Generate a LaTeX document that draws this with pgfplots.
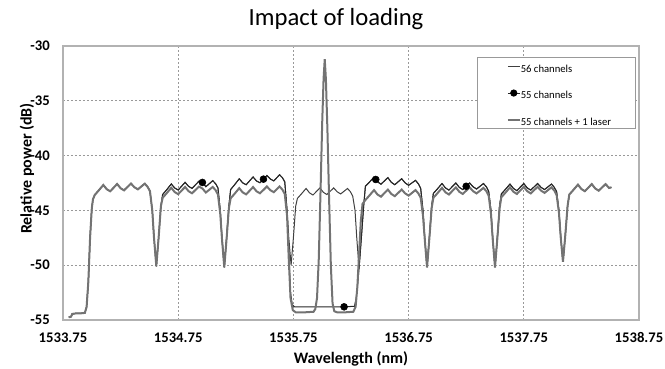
\documentclass[border=0pt]{standalone}
\usepackage{pgfplots}
\pgfplotsset{compat=1.18}
\usepackage{fontspec}
\setmainfont{Carlito}
\begin{document}
\begin{tikzpicture}
\begin{axis}[
  scale only axis, width=432pt, height=205.5pt,
  xmin=1533.75, xmax=1538.75, ymin=-55, ymax=-30,
  xtick={1533.75,1534.75,1535.75,1536.75,1537.75,1538.75},
  xticklabels={1533.75,1534.75,1535.75,1536.75,1537.75,1538.75},
  ytick={-55,-50,-45,-40,-35,-30},
  yticklabels={-55,-50,-45,-40,-35,-30},
  grid=major,
  major grid style={color=black!40, line width=0.5pt, dash pattern=on 1.5pt off 1.5pt},
  axis line style={color=black!30, line width=0.8pt},
  major tick length=0pt,
  tick label style={font=\bfseries\fontsize{11}{13}\selectfont},
  xticklabel style={anchor=base, yshift=-17.25pt},
  yticklabel style={anchor=east, inner xsep=0pt, xshift=-9.75pt},
  every axis title shift=0pt,
  title={Impact of loading},
  title style={at={(0.474,1.0766)}, anchor=base, font=\fontsize{18.5}{22}\selectfont},
  xlabel={Wavelength (nm)},
  xlabel style={at={(0.5,-0.1606)}, anchor=base, font=\bfseries\fontsize{12}{14}\selectfont},
  ylabel={Relative power (dB)},
  ylabel style={at={(-0.0546,0.553)}, anchor=base, font=\bfseries\fontsize{12}{14}\selectfont},
  legend cell align=left,
  legend style={at={(0.7188,0.9599)}, anchor=north west, draw=black!40, line width=0.6pt,
    fill=white, inner xsep=22pt, inner ysep=1pt, row sep=8.5pt,
    font=\fontsize{8}{9.5}\selectfont, nodes={inner sep=0pt},
    /tikz/every even column/.append style={column sep=1.5pt}},
]
% 56 channels
\addplot[color=black!75, line width=0.75pt,
  legend image code/.code={\draw (0pt,0pt) -- (9pt,0pt);}]
table {
1533.80 -54.75
1533.82 -54.7
1533.83 -54.45
1533.86 -54.4
1533.90 -54.4
1533.94 -54.35
1533.955 -53.8
1533.97 -51.5
1533.985 -47.5
1534.00 -44.8
1534.01 -44.0
1534.025 -43.6
1534.055 -43.24
1534.10 -42.68
1534.13 -43.07
1534.16 -43.26
1534.22 -42.59
1534.25 -42.98
1534.28 -43.17
1534.34 -42.55
1534.37 -42.89
1534.40 -43.08
1534.46 -42.56
1534.485 -42.86
1534.505 -43.25
1534.525 -45.0
1534.54 -47.5
1534.56 -50.1
1534.58 -47.5
1534.60 -44.6
1534.615 -43.55
1534.645 -43.18
1534.69 -42.59
1534.72 -42.96
1534.75 -43.14
1534.81 -42.44
1534.84 -42.81
1534.87 -42.99
1534.93 -42.34
1534.96 -42.45
1534.99 -42.84
1535.05 -42.29
1535.075 -42.57
1535.095 -42.95
1535.115 -45.0
1535.13 -47.5
1535.15 -50.2
1535.17 -47.5
1535.19 -44.6
1535.205 -43.1
1535.235 -42.72
1535.28 -42.12
1535.31 -42.49
1535.34 -42.66
1535.40 -41.95
1535.43 -42.32
1535.46 -42.48
1535.49 -42.15
1535.52 -41.82
1535.55 -42.14
1535.58 -42.31
1535.63 -41.75
1535.655 -42.02
1535.675 -42.4
1535.695 -45.0
1535.71 -47.5
1535.73 -50.0
1535.75 -47.5
1535.77 -44.6
1535.785 -43.9
1535.815 -43.55
1535.86 -43.0
1535.89 -43.4
1535.92 -43.6
1535.98 -42.95
1536.01 -43.35
1536.04 -43.55
1536.10 -42.95
1536.13 -43.3
1536.16 -43.5
1536.22 -43.0
1536.245 -43.3
1536.265 -43.7
1536.285 -45.0
1536.30 -47.5
1536.32 -50.3
1536.34 -47.5
1536.36 -44.6
1536.375 -42.8
1536.405 -42.48
1536.45 -41.96
1536.465 -42.18
1536.48 -42.39
1536.51 -42.61
1536.57 -42.01
1536.60 -42.44
1536.63 -42.66
1536.69 -42.11
1536.72 -42.49
1536.75 -42.71
1536.81 -42.26
1536.835 -42.58
1536.855 -43.0
1536.875 -45.0
1536.89 -47.5
1536.91 -50.2
1536.93 -47.5
1536.95 -44.6
1536.965 -43.45
1536.995 -43.1
1537.04 -42.55
1537.07 -42.95
1537.10 -43.15
1537.16 -42.5
1537.19 -42.9
1537.22 -43.1
1537.25 -42.8
1537.28 -42.5
1537.31 -42.85
1537.34 -43.05
1537.40 -42.55
1537.425 -42.85
1537.445 -43.25
1537.465 -45.0
1537.48 -47.5
1537.50 -50.2
1537.52 -47.5
1537.54 -44.6
1537.555 -43.5
1537.585 -43.15
1537.63 -42.6
1537.66 -43.0
1537.69 -43.2
1537.75 -42.55
1537.78 -42.95
1537.81 -43.15
1537.87 -42.55
1537.90 -42.9
1537.93 -43.1
1537.99 -42.6
1538.015 -42.9
1538.035 -43.3
1538.055 -45.0
1538.07 -47.3
1538.09 -49.7
1538.11 -47.3
1538.13 -44.6
1538.145 -43.55
1538.175 -43.2
1538.22 -42.65
1538.25 -43.05
1538.28 -43.25
1538.34 -42.6
1538.37 -43.0
1538.40 -43.2
1538.46 -42.6
1538.49 -42.95
1538.51 -42.9
};
\addlegendentry{\makebox[64pt][l]{\rule[-2.5pt]{0pt}{12.5pt}56 channels}}
% 55 channels
\addplot[color=black!85, line width=0.75pt,
  legend image code/.code={\draw (0pt,0pt) -- (9pt,0pt); \fill[black] (4.5pt,0pt) circle (2.3pt);}]
table {
1533.80 -54.75
1533.82 -54.7
1533.83 -54.45
1533.86 -54.4
1533.90 -54.4
1533.94 -54.35
1533.955 -53.8
1533.97 -51.5
1533.985 -47.5
1534.00 -44.8
1534.01 -44.0
1534.025 -43.6
1534.055 -43.24
1534.10 -42.68
1534.13 -43.07
1534.16 -43.26
1534.22 -42.59
1534.25 -42.98
1534.28 -43.17
1534.34 -42.55
1534.37 -42.89
1534.40 -43.08
1534.46 -42.56
1534.485 -42.86
1534.505 -43.25
1534.525 -45.0
1534.54 -47.5
1534.56 -50.1
1534.58 -47.5
1534.60 -44.6
1534.615 -43.55
1534.645 -43.18
1534.69 -42.59
1534.72 -42.96
1534.75 -43.14
1534.81 -42.44
1534.84 -42.81
1534.87 -42.99
1534.93 -42.34
1534.96 -42.45
1534.99 -42.84
1535.05 -42.29
1535.075 -42.57
1535.095 -42.95
1535.115 -45.0
1535.13 -47.5
1535.15 -50.2
1535.17 -47.5
1535.19 -44.6
1535.205 -43.1
1535.235 -42.72
1535.28 -42.12
1535.31 -42.49
1535.34 -42.66
1535.40 -41.95
1535.43 -42.32
1535.46 -42.48
1535.49 -42.15
1535.52 -41.82
1535.55 -42.14
1535.58 -42.31
1535.63 -41.75
1535.655 -42.02
1535.675 -42.4
1535.695 -45.0
1535.71 -48.5
1535.725 -52.5
1535.74 -53.6
1535.76 -53.8
1535.90 -53.8
1536.05 -53.8
1536.19 -53.8
1536.28 -53.75
1536.295 -53.0
1536.31 -51.5
1536.32 -50.3
1536.34 -47.5
1536.36 -44.6
1536.375 -42.8
1536.405 -42.48
1536.45 -41.96
1536.465 -42.18
1536.48 -42.39
1536.51 -42.61
1536.57 -42.01
1536.60 -42.44
1536.63 -42.66
1536.69 -42.11
1536.72 -42.49
1536.75 -42.71
1536.81 -42.26
1536.835 -42.58
1536.855 -43.0
1536.875 -45.0
1536.89 -47.5
1536.91 -50.2
1536.93 -47.5
1536.95 -44.6
1536.965 -43.45
1536.995 -43.1
1537.04 -42.55
1537.07 -42.95
1537.10 -43.15
1537.16 -42.5
1537.19 -42.9
1537.22 -43.1
1537.25 -42.8
1537.28 -42.5
1537.31 -42.85
1537.34 -43.05
1537.40 -42.55
1537.425 -42.85
1537.445 -43.25
1537.465 -45.0
1537.48 -47.5
1537.50 -50.2
1537.52 -47.5
1537.54 -44.6
1537.555 -43.5
1537.585 -43.15
1537.63 -42.6
1537.66 -43.0
1537.69 -43.2
1537.75 -42.55
1537.78 -42.95
1537.81 -43.15
1537.87 -42.55
1537.90 -42.9
1537.93 -43.1
1537.99 -42.6
1538.015 -42.9
1538.035 -43.3
1538.055 -45.0
1538.07 -47.3
1538.09 -49.7
1538.11 -47.3
1538.13 -44.6
1538.145 -43.55
1538.175 -43.2
1538.22 -42.65
1538.25 -43.05
1538.28 -43.25
1538.34 -42.6
1538.37 -43.0
1538.40 -43.2
1538.46 -42.6
1538.49 -42.95
1538.51 -42.9
};
\addlegendentry{\makebox[64pt][l]{\rule[-2.5pt]{0pt}{12.5pt}55 channels}}
% 55 channels + 1 laser
\addplot[color=black!55, line width=1.5pt,
  legend image code/.code={\draw (0pt,0pt) -- (9pt,0pt);}]
table {
1533.80 -54.75
1533.82 -54.7
1533.83 -54.45
1533.86 -54.4
1533.90 -54.4
1533.94 -54.35
1533.955 -53.8
1533.97 -51.5
1533.985 -47.5
1534.00 -44.8
1534.01 -44.0
1534.025 -43.6
1534.055 -43.24
1534.10 -42.68
1534.13 -43.07
1534.16 -43.26
1534.22 -42.59
1534.25 -42.98
1534.28 -43.17
1534.34 -42.55
1534.37 -42.89
1534.40 -43.08
1534.46 -42.56
1534.485 -42.86
1534.505 -43.25
1534.525 -45.0
1534.54 -47.5
1534.56 -50.1
1534.58 -47.5
1534.60 -44.6
1534.615 -43.85
1534.645 -43.49
1534.69 -42.94
1534.72 -43.33
1534.75 -43.52
1534.81 -42.86
1534.84 -43.25
1534.87 -43.44
1534.93 -42.83
1534.96 -43.0
1534.99 -43.37
1535.05 -42.86
1535.075 -43.16
1535.095 -43.55
1535.115 -45.3
1535.13 -47.6
1535.15 -50.2
1535.17 -47.6
1535.19 -44.8
1535.205 -43.9
1535.235 -43.54
1535.28 -42.97
1535.31 -43.36
1535.34 -43.54
1535.40 -42.87
1535.43 -43.26
1535.46 -43.44
1535.52 -42.82
1535.55 -43.16
1535.58 -43.34
1535.63 -42.82
1535.655 -43.11
1535.675 -43.5
1535.695 -45.5
1535.71 -49.5
1535.725 -53.0
1535.745 -54.1
1535.77 -54.3
1535.85 -54.3
1535.925 -54.25
1535.94 -54.0
1535.955 -53.0
1535.97 -49.5
1535.985 -43.5
1536.00 -37.0
1536.012 -33.0
1536.022 -31.2
1536.032 -33.0
1536.045 -37.5
1536.06 -44.0
1536.075 -50.0
1536.09 -53.5
1536.105 -54.2
1536.13 -54.3
1536.20 -54.3
1536.27 -54.25
1536.29 -53.8
1536.305 -52.0
1536.32 -49.0
1536.335 -46.0
1536.35 -44.4
1536.375 -44.05
1536.405 -43.7
1536.45 -43.15
1536.48 -43.55
1536.51 -43.75
1536.57 -43.1
1536.60 -43.5
1536.63 -43.7
1536.69 -43.1
1536.72 -43.45
1536.75 -43.65
1536.81 -43.15
1536.835 -43.45
1536.855 -43.85
1536.875 -45.5
1536.89 -47.6
1536.91 -50.2
1536.93 -47.6
1536.95 -44.8
1536.965 -43.85
1536.995 -43.5
1537.04 -42.95
1537.07 -43.35
1537.10 -43.55
1537.16 -42.9
1537.19 -43.3
1537.22 -43.5
1537.28 -42.9
1537.31 -43.25
1537.34 -43.45
1537.40 -42.95
1537.425 -43.25
1537.445 -43.65
1537.465 -45.3
1537.48 -47.6
1537.50 -50.2
1537.52 -47.6
1537.54 -44.8
1537.555 -43.8
1537.585 -43.45
1537.63 -42.9
1537.66 -43.3
1537.69 -43.5
1537.75 -42.85
1537.78 -43.25
1537.81 -43.45
1537.87 -42.85
1537.90 -43.2
1537.93 -43.4
1537.99 -42.9
1538.015 -43.2
1538.035 -43.6
1538.055 -45.2
1538.07 -47.4
1538.09 -49.7
1538.11 -47.3
1538.13 -44.6
1538.145 -43.55
1538.175 -43.2
1538.22 -42.65
1538.25 -43.05
1538.28 -43.25
1538.34 -42.6
1538.37 -43.0
1538.40 -43.2
1538.46 -42.6
1538.49 -42.95
1538.51 -42.9
};
\addlegendentry{\makebox[64pt][l]{\rule[-2.5pt]{0pt}{12.5pt}55 channels + 1 laser}}
% markers of the 55-channel series
\addplot[only marks, mark=*, mark size=2.6pt, color=black, forget plot]
coordinates {(1534.96,-42.45) (1535.49,-42.15) (1536.19,-53.8) (1536.465,-42.18) (1537.25,-42.8)};
\end{axis}
\pgfresetboundingbox
\path[use as bounding box] ([shift={(-47.25pt,-36.75pt)}]current axis.south west) rectangle ([shift={(19.5pt,34.5pt)}]current axis.north east);
\end{tikzpicture}
\end{document}
